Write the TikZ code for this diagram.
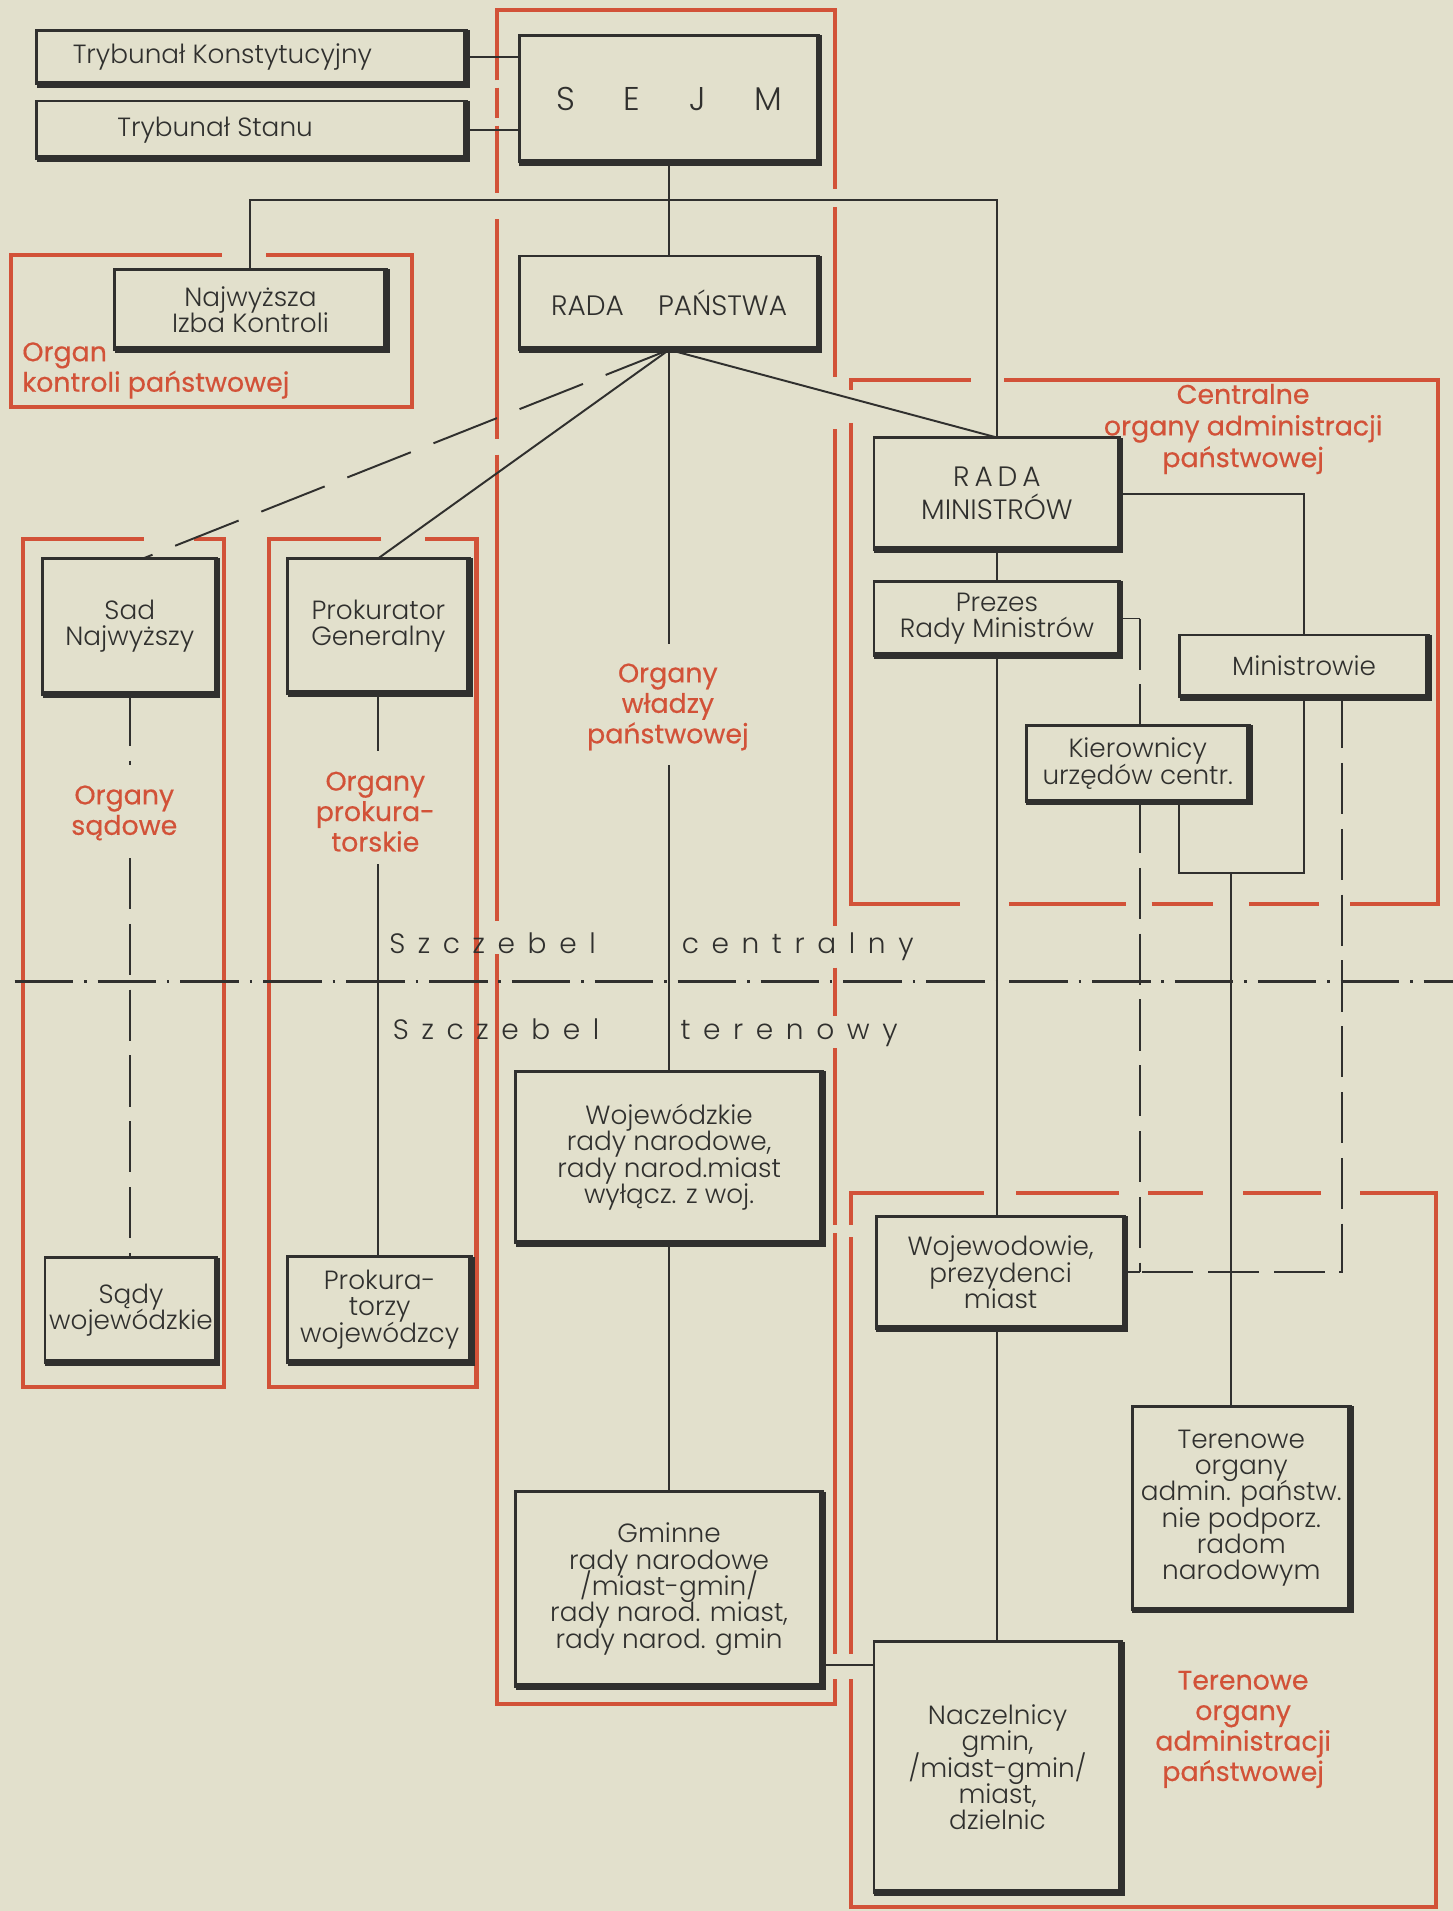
\documentclass[tikz,border=0pt]{standalone}
\usepackage{fontspec}
\setmainfont{Poppins}[UprightFont=* Light]
\newfontfamily\redf[FakeBold=0.4]{Poppins}
\newfontfamily\spcf[LetterSpace=45, UprightFont=* Light]{Poppins}
\newcommand\tightlines{\setlength{\lineskiplimit}{-20pt}}
\definecolor{ink}{RGB}{48,48,46}
\definecolor{redc}{RGB}{210,82,56}
\definecolor{paper}{RGB}{226,224,204}
\begin{document}
\begin{tikzpicture}[x=0.5pt,y=-0.5pt,
  bx/.style={draw=ink, line width=1.1pt, text=ink, align=center, inner sep=0pt, outer sep=0pt, font=\fontsize{10.8}{10.8}\selectfont\tightlines},
  shd/.style={draw=ink, line width=2.8pt, line join=miter},
  cn/.style={draw=ink, line width=0.8pt},
  cnd/.style={cn, dash pattern=on 21pt off 6pt},
  cnd2/.style={cn, dash pattern=on 28pt off 10pt},
  rf/.style={draw=redc, line width=1.7pt, line join=miter},
  rl/.style={text=redc, font=\redf\fontsize{11}{12.5}\selectfont\tightlines, align=center, inner sep=0pt},
  dd/.style={draw=ink, line width=1.3pt, dash pattern=on 24pt off 4.5pt on 1pt off 4.5pt},
  sz/.style={text=ink, font=\spcf\fontsize{11.5}{12}\selectfont, inner sep=0pt, anchor=base west}
]
\fill[paper] (0,0) rectangle (1192,1568);
\useasboundingbox (0,0) rectangle (1192,1568);

% ---------- red frames ----------
% central frame (organy wladzy)
\draw[rf] (408,66) -- (408,8) -- (685,8) -- (685,155);
\draw[rf] (408,72) -- (408,97);
\draw[rf] (408,103) -- (408,158);
\draw[rf] (408,180) -- (408,360);
\draw[rf] (408,373) -- (408,756);
\draw[rf] (408,783) -- (408,1398) -- (685,1398) -- (685,1378);
\draw[rf] (685,170) -- (685,309);
\draw[rf] (685,352) -- (685,760);
\draw[rf] (685,794) -- (685,834);
\draw[rf] (685,860) -- (685,1005);
\draw[rf] (685,1012) -- (685,1357);
% centralne organy
\draw[rf] (698,320) -- (698,312) -- (797,312);
\draw[rf] (824,312) -- (1180,312) -- (1180,742) -- (1108,742);
\draw[rf] (698,347) -- (698,742) -- (788,742);
\draw[rf] (828,742) -- (924,742);
\draw[rf] (945,742) -- (995,742);
\draw[rf] (1025,742) -- (1082,742);
% terenowe organy
\draw[rf] (698,1005) -- (698,979) -- (807,979);
\draw[rf] (834,979) -- (918,979);
\draw[rf] (942,979) -- (987,979);
\draw[rf] (1020,979) -- (1084,979);
\draw[rf] (1116,979) -- (1178,979) -- (1178,1565) -- (698,1565) -- (698,1378);
\draw[rf] (698,1015) -- (698,1357);
% organ kontroli
\draw[rf] (182,209) -- (9,209) -- (9,334) -- (338,334) -- (338,209) -- (218,209);
% organy sadowe
\draw[rf] (118,442) -- (19,442) -- (19,1138) -- (184,1138) -- (184,442) -- (159,442);
% organy prokuratorskie
\draw[rf] (313,442) -- (221,442) -- (221,1138) -- (391,1138) -- (391,442) -- (349,442);

% ---------- boxes ----------
\node[bx, minimum width=176.5pt, minimum height=22pt] (tk) at (206.5,47) {Trybunał Konstytucyjny\hspace*{24pt}};
\node[bx, minimum width=176.5pt, minimum height=23.5pt] (ts) at (206.5,106.5) {Trybunał Stanu\hspace*{30pt}};
\node[bx, minimum width=123pt, minimum height=52pt, font=\fontsize{13.5}{14}\selectfont] (sejm) at (549,81) {S\hspace{20pt}E\hspace{20pt}J\hspace{20pt}M};
\node[bx, minimum width=123pt, minimum height=38.5pt, font=\fontsize{11.5}{12}\selectfont] (rp) at (549,248.5) {RADA\hspace{14pt}PAŃSTWA};
\node[bx, minimum width=111.5pt, minimum height=33pt] (nik) at (205.5,254) {Najwyższa\\Izba Kontroli};
\node[bx, minimum width=101pt, minimum height=46pt, font=\fontsize{11.5}{13.5}\selectfont] (rm) at (818,405) {R\kern2pt A\kern2pt D\kern2pt A\\MINISTRÓW};
\node[bx, minimum width=101pt, minimum height=30.5pt] (prezes) at (818,507.5) {Prezes\\Rady Ministrów};
\node[bx, minimum width=102pt, minimum height=25.5pt] (mins) at (1070,546.5) {Ministrowie};
\node[bx, minimum width=91.5pt, minimum height=31.5pt] (kier) at (933.5,626.5) {Kierownicy\\urzędów centr.};
\node[bx, minimum width=71.5pt, minimum height=56pt] (sn) at (106.5,514) {Sad\\Najwyższy};
\node[bx, minimum width=74.5pt, minimum height=55.5pt] (pg) at (310.5,513.5) {Prokurator\\Generalny};
\node[bx, minimum width=126pt, minimum height=70.5pt] (wrn) at (549,949.5) {Wojewódzkie\\rady narodowe,\\rady narod.miast\\wyłącz. z woj.};
\node[bx, minimum width=102pt, minimum height=46pt] (woj) at (821,1044) {Wojewodowie,\\prezydenci\\miast};
\node[bx, minimum width=70.5pt, minimum height=43pt] (sw) at (107.5,1075) {Sądy\\wojewódzkie};
\node[bx, minimum width=75.5pt, minimum height=43.5pt] (pw) at (311.5,1074.5) {Prokura-\\torzy\\wojewódzcy};
\node[bx, minimum width=89.5pt, minimum height=83.5pt] (ter) at (1018.5,1237.5) {Terenowe\\organy\\admin. państw.\\nie podporz.\\radom\\narodowym};
\node[bx, minimum width=126pt, minimum height=80pt] (gm) at (549,1304) {Gminne\\rady narodowe\\/miast-gmin/\\rady narod. miast,\\rady narod. gmin};
\node[bx, minimum width=101.5pt, minimum height=103pt] (nacz) at (818.5,1450) {Naczelnicy\\gmin,\\/miast-gmin/\\miast,\\dzielnic};

\foreach \n in {tk,ts,sejm,rp,nik,rm,prezes,mins,kier,sn,pg,wrn,woj,sw,pw,ter,gm,nacz}
  \draw[shd] (\n.south west) -- (\n.south east) -- (\n.north east);

% ---------- connectors ----------
\coordinate (hy) at (0,164);
\coordinate (w1) at (0,528);
\coordinate (w2) at (0,628);
\coordinate (s1) at (0,628);
\coordinate (s2) at (0,704);
\coordinate (p1) at (0,616);
\coordinate (p2) at (0,709);
\coordinate (kx) at (935,0);
\coordinate (dx) at (1101,0);
\coordinate (k2) at (967,0);
\coordinate (tx) at (1010,0);
\coordinate (by) at (0,716);
\coordinate (gy) at (0,1366);
\coordinate (snt) at (118,458);

\draw[cn] (tk.east) -- (tk.east -| sejm.west);
\draw[cn] (ts.east) -- (ts.east -| sejm.west);
\draw[cn] (sejm.south) -- (rp.north);
\draw[cn] (nik.north) -- (nik.north |- hy) -- (rm.north |- hy) -- (rm.north);
\draw[cnd2] (rp.south) -- (snt);
\draw[cn] (rp.south) -- (pg.north);
\draw[cn] (rp.south) -- (rm.north);
\draw[cn] (rp.south) -- (rp.south |- w1);
\draw[cn] (rp.south |- w2) -- (wrn.north);
\draw[cn] (rm.south) -- (prezes.north);
\draw[cn] (rm.east) -- (rm.east -| mins.north) -- (mins.north);
\draw[cn] (prezes.east) -- (prezes.east -| kx);
\draw[cnd] (prezes.east -| kx) -- (kier.north -| kx);
\draw[cnd] (kier.south -| kx) -- (kx |- woj.east);
\draw[cn] (woj.east) -- (kx |- woj.east);
\draw[cnd] (mins.south -| dx) -- (dx |- woj.east) -- (kx |- woj.east);
\draw[cn] (kier.south -| k2) -- (k2 |- by) -- (mins.south |- by) -- (mins.south);
\draw[cn] (tx |- by) -- (tx |- ter.north);
\draw[cn] (prezes.south) -- (prezes.south |- woj.north);
\draw[cn] (prezes.south |- woj.south) -- (prezes.south |- nacz.north);
\draw[cn] (wrn.south) -- (gm.north);
\draw[cn] (gm.east |- gy) -- (nacz.west |- gy);
\draw[cnd] (sn.south) -- (sn.south |- s1);
\draw[cnd] (sn.south |- s2) -- (sn.south |- sw.north);
\draw[cn] (pg.south) -- (pg.south |- p1);
\draw[cn] (pg.south |- p2) -- (pg.south |- pw.north);

% level divider
\coordinate (dl) at (12,805);
\coordinate (dr) at (1192,805);
\draw[dd] (dl) -- (dr);
\node[sz] (sc1) at (319,782) {Szczebel};
\node[sz] (sc2) at (559,782) {centralny};
\node[sz] (st1) at (322,853) {Szczebel};
\node[sz] (st2) at (558,853) {terenowy};

% ---------- red labels ----------
\node[rl, align=left, anchor=west] (lk) at (18,304) {Organ\\kontroli państwowej};
\node[rl] (ls) at (102,667) {Organy\\sądowe};
\node[rl] (lp) at (308,666) {Organy\\prokura-\\torskie};
\node[rl] (lw) at (548,580) {Organy\\władzy\\państwowej};
\node[rl, font=\redf\fontsize{11}{13}\selectfont\tightlines] (lc) at (1020,352) {Centralne\\organy administracji\\państwowej};
\node[rl] (lt) at (1020,1419) {Terenowe\\organy\\administracji\\państwowej};
\end{tikzpicture}
\end{document}
